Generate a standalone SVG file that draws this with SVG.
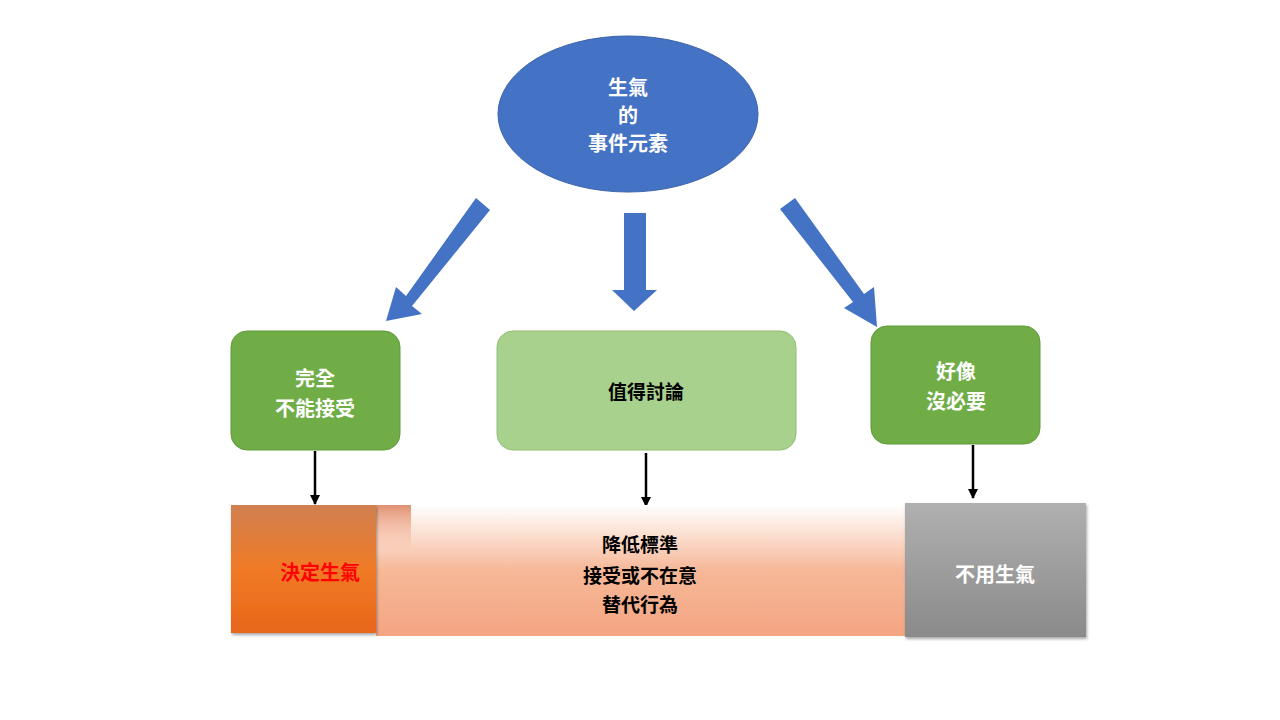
<svg xmlns="http://www.w3.org/2000/svg" width="1280" height="720" viewBox="0 0 1280 720">
<defs>
<linearGradient id="gOr" x1="0" y1="0" x2="0" y2="1"><stop offset="0" stop-color="#D08050"/><stop offset="0.5" stop-color="#F07A26"/><stop offset="1" stop-color="#E8671A"/></linearGradient>
<linearGradient id="gMid" x1="0" y1="0" x2="0" y2="1"><stop offset="0" stop-color="#FFFFFF"/><stop offset="0.5" stop-color="#F6B898"/><stop offset="1" stop-color="#F4A582"/></linearGradient>
<linearGradient id="gGr" x1="0" y1="0" x2="0" y2="1"><stop offset="0" stop-color="#B0B0B0"/><stop offset="1" stop-color="#8A8A8A"/></linearGradient>
<linearGradient id="gTab" x1="0" y1="0" x2="0" y2="1"><stop offset="0" stop-color="#E09070"/><stop offset="1" stop-color="#F4A582" stop-opacity="0"/></linearGradient>
<marker id="ah" viewBox="0 0 10 10" refX="9" refY="5" markerWidth="4" markerHeight="4" orient="auto"><path d="M0,0L10,5L0,10z" fill="#000"/></marker>
<filter id="sh"><feDropShadow dx="1" dy="2" stdDeviation="1.5" flood-opacity="0.35"/></filter>
</defs>
<style>
text{font-family:"Noto Sans CJK TC","Noto Sans CJK SC",sans-serif;font-weight:bold;text-anchor:middle}
.w{fill:#fff;font-size:20px}
.k{fill:#000;font-size:19px}
.blk{fill:#4472C4}
.ln{stroke:#000;stroke-width:2.5;fill:none;marker-end:url(#ah)}
</style>
<rect width="1280" height="720" fill="#fff"/>
<g id="top"><ellipse cx="628" cy="114" rx="130" ry="78" fill="#4472C4" stroke="#3A62A8"/>
<text class="w" x="628" y="95" font-size="19">生氣</text><text class="w" x="628" y="123" font-size="19">的</text><text class="w" x="628" y="151" font-size="19">事件元素</text></g>
<g id="connectors">
<path class="blk" d="M476,198L490,210L412,306L422,314L386,321L396,287L406,296Z"/>
<path class="blk" d="M624,213H646V290H657L634,311L612,290H624Z"/>
<path class="blk" d="M780,209L795,198L864,294L874,287L877,327L844,308L853,302Z"/>
<path class="ln" d="M315,451V504"/>
<path class="ln" d="M646,453V506"/>
<path class="ln" d="M973,445V498"/>
</g>
<g id="n1"><rect x="231" y="331" width="169" height="119" rx="16" fill="#70AD47" stroke="#5E9A3A"/>
<text class="w" x="315" y="386">完全</text><text class="w" x="315" y="416">不能接受</text></g>
<g id="n2"><rect x="497" y="331" width="299" height="119" rx="16" fill="#A9D18E" stroke="#8FBF70"/>
<text class="k" x="646" y="399">值得討論</text></g>
<g id="n3"><rect x="871" y="326" width="169" height="118" rx="16" fill="#70AD47" stroke="#5E9A3A"/>
<text class="w" x="956" y="379">好像</text><text class="w" x="956" y="409">沒必要</text></g>
<g id="b2"><rect x="376" y="505" width="529" height="131" fill="url(#gMid)"/>
<rect x="376" y="505" width="35" height="45" fill="url(#gTab)"/>
<text class="k" x="640" y="552">降低標準</text><text class="k" x="640" y="583">接受或不在意</text><text class="k" x="640" y="612">替代行為</text></g>
<g id="b1"><rect x="231" y="505" width="145" height="128" fill="url(#gOr)" filter="url(#sh)"/>
<text x="320" y="580" style="fill:#FF0000;font-size:20px">決定生氣</text></g>
<g id="b3"><rect x="905" y="503" width="181" height="134" fill="url(#gGr)" filter="url(#sh)"/>
<text class="w" x="995" y="582">不用生氣</text></g>
</svg>
